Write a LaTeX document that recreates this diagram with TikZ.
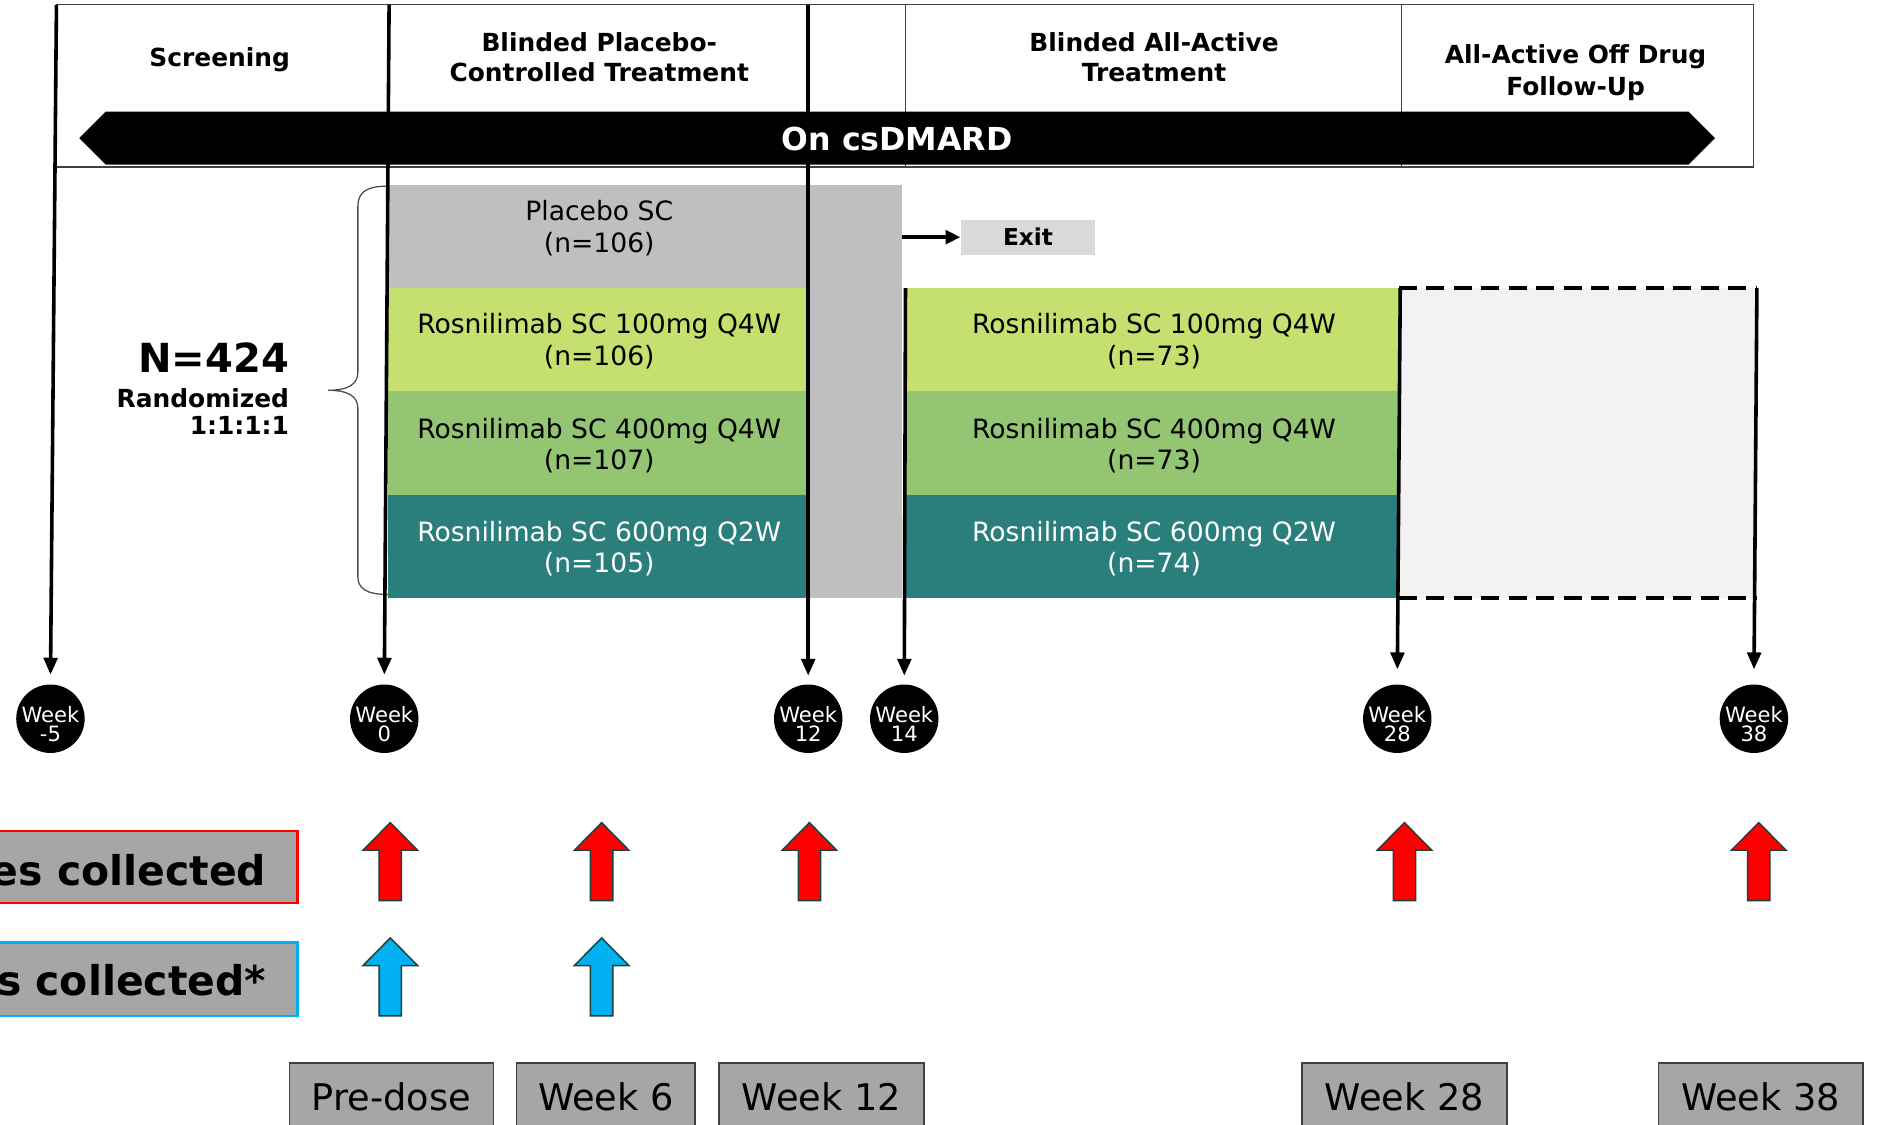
\documentclass[tikz,border=0pt]{standalone}
\usepackage{fontspec}
\setmainfont{DejaVu Sans}
\usetikzlibrary{arrows.meta}
\definecolor{pbogray}{HTML}{BFBFBF}
\definecolor{lgreen}{HTML}{C5E06E}
\definecolor{mgreen}{HTML}{93C572}
\definecolor{tealrow}{HTML}{2A7F7D}
\definecolor{fugray}{HTML}{F2F2F2}
\definecolor{exitgray}{HTML}{D9D9D9}
\definecolor{boxgray}{HTML}{A6A6A6}
\definecolor{redarr}{HTML}{FF0000}
\definecolor{bluearr}{HTML}{00B0F0}
\definecolor{arrline}{HTML}{203F3F}
\newcommand{\blkarrow}[3]{%
  \draw[fill=#3, draw=arrline, line width=0.7pt]
    (#1-9.3,#2+65) -- (#1-9.3,#2+23) -- (#1-22.7,#2+23) -- (#1,#2)
    -- (#1+22.7,#2+23) -- (#1+9.3,#2+23) -- (#1+9.3,#2+65) -- cycle;}
\begin{document}
\begin{tikzpicture}[x=0.02cm,y=-0.02cm,
  hdr/.style={font=\bfseries\fontsize{11.8}{14.2}\selectfont, align=center, inner sep=0pt},
  trt/.style={font=\fontsize{12.6}{15}\selectfont, align=center, inner sep=0pt},
  wk/.style={circle, fill=black, minimum size=1.14cm, inner sep=0pt},
  wklab/.style={text=white, align=center, inner sep=0pt, font=\fontsize{10}{9}\selectfont},
  tl/.style={line width=1.7pt, -{Triangle[length=8pt,width=6.5pt]}},
  legtext/.style={font=\bfseries\fontsize{19.4}{22}\selectfont, anchor=base east, inner sep=0pt},
  btmtext/.style={font=\fontsize{17.4}{20}\selectfont, anchor=base, inner sep=0pt},
  btmbox/.style={fill=boxgray, draw=black!75, line width=0.8pt},
  hline/.style={draw=black!75, line width=0.6pt},
  dashbox/.style={line width=1.7pt, dash pattern=on 8.5pt off 4.5pt}
]
\useasboundingbox (0,0) rectangle (1568,936);
\fill[white] (0,0) rectangle (1568,936);

% header frame
\draw[hline] (47,4) rectangle (1460,139);
\draw[hline] (754,4) -- (754,139) (1167,4) -- (1167,139);
\node[hdr] (hscr) at (183,50) {Screening};
\node[hdr] (hpbo) at (499,47.5) {Blinded Placebo-\\Controlled Treatment};
\node[hdr] (hact) at (961,47.5) {Blinded All-Active\\Treatment};
\node[hdr] (hfu) at (1312,60.4) {All-Active Off Drug\\[0.8pt]Follow-Up};

% csDMARD band
\fill[black] (66,115) -- (88,93) -- (1406,93) -- (1428,115) -- (1406,137) -- (88,137) -- cycle;
\node[font=\bfseries\fontsize{15}{18}\selectfont, text=white, inner sep=0pt] (band) at (747,116) {On csDMARD};

% treatment blocks
\fill[pbogray] (323,154) rectangle (751,498);
\fill[lgreen] (323,240) rectangle (673,326);
\fill[mgreen] (323,326) rectangle (673,412);
\fill[tealrow] (323,412) rectangle (673,498);
\fill[lgreen] (754,240) rectangle (1165,326);
\fill[mgreen] (754,326) rectangle (1165,412);
\fill[tealrow] (754,412) rectangle (1165,498);
\fill[fugray] (1165,240) rectangle (1463,498);
\draw[dashbox] (1165,240) -- (1463,240) (1165,498) -- (1463,498);

\node[trt] (tp) at (499,190) {Placebo SC\\(n=106)};
\node[trt] (t1) at (499,284) {Rosnilimab SC 100mg Q4W\\(n=106)};
\node[trt] (t2) at (499,371) {Rosnilimab SC 400mg Q4W\\(n=107)};
\node[trt, text=white] (t3) at (499,457) {Rosnilimab SC 600mg Q2W\\(n=105)};
\node[trt] (r1) at (961,284) {Rosnilimab SC 100mg Q4W\\(n=73)};
\node[trt] (r2) at (961,371) {Rosnilimab SC 400mg Q4W\\(n=73)};
\node[trt, text=white] (r3) at (961,457) {Rosnilimab SC 600mg Q2W\\(n=74)};

% exit
\node[fill=exitgray, minimum width=2.24cm, minimum height=0.58cm, inner sep=0pt,
      font=\bfseries\fontsize{11}{13}\selectfont] (exit) at (856,197.5) {Exit};
\coordinate (exs) at (751,197.5);
\draw[line width=1.7pt, -{Triangle[length=7pt,width=6.5pt]}] (exs) -- (exit.west);

% brace and N
\draw[black!70, line width=0.6pt] (323,155) .. controls (305,155) and (298,160) .. (298,172)
  -- (298,310) .. controls (298,320) and (290,325) .. (273,325)
  .. controls (290,325) and (298,330) .. (298,340) -- (298,480)
  .. controls (298,490) and (305,495) .. (323,495);
\node[font=\bfseries\fontsize{19}{22}\selectfont, anchor=east, inner sep=0pt] (n424) at (241,298) {N=424};
\node[font=\bfseries\fontsize{11.8}{13}\selectfont, anchor=east, align=right, inner sep=0pt] (rand) at (241,342.5) {Randomized\\1:1:1:1};

% week circles
\foreach \n/\x/\l in {c5/42/-5, c0/320/0, c12/673/12, c14/753/14, c28/1163.5/28, c38/1460.5/38}{
  \node[wk] (\n) at (\x,598.5) {};
  \node[wklab] (\n lab) at (\x,603) {Week\\\l};
}

% timeline arrows
\coordinate (t5) at (47,4);
\coordinate (t0) at (324,4);
\coordinate (t12) at (673,4);
\coordinate (t14) at (754,240);
\coordinate (t28) at (1166,240);
\coordinate (t38) at (1463,240);
\draw[tl, shorten >=4.5pt] (t5) -- (c5.north);
\draw[tl, shorten >=4.5pt] (t0) -- (c0.north);
\draw[tl, shorten >=4pt] (t12) -- (c12.north);
\draw[tl, shorten >=4pt] (t14) -- (c14.north);
\draw[tl, shorten >=7pt] (t28) -- (c28.north);
\draw[tl, shorten >=7pt] (t38) -- (c38.north);

% legend boxes
\draw[draw=redarr, line width=1.3pt, fill=boxgray] (-30,692) rectangle (248,752);
\node[legtext] (leg1) at (222,737) {es collected};
\draw[draw=bluearr, line width=1.3pt, fill=boxgray] (-30,785) rectangle (248,846);
\node[legtext] (leg2) at (222,829) {s collected*};

% block arrows
\blkarrow{325}{685}{redarr}
\blkarrow{501}{685}{redarr}
\blkarrow{674}{685}{redarr}
\blkarrow{1169.5}{685}{redarr}
\blkarrow{1464.5}{685}{redarr}
\blkarrow{325}{781}{bluearr}
\blkarrow{501}{781}{bluearr}

% bottom boxes
\draw[btmbox] (241,885) rectangle (411,960);
\draw[btmbox] (430,885) rectangle (579,960);
\draw[btmbox] (598.5,885) rectangle (769.5,960);
\draw[btmbox] (1084,885) rectangle (1255,960);
\draw[btmbox] (1381,885) rectangle (1551.5,960);
\node[btmtext] (bpre) at (326,925) {Pre-dose};
\node[btmtext] (bw6) at (504.5,925) {Week 6};
\node[btmtext] (bw12) at (684,925) {Week 12};
\node[btmtext] (bw28) at (1169.5,925) {Week 28};
\node[btmtext] (bw38) at (1466,925) {Week 38};
\end{tikzpicture}
\end{document}
